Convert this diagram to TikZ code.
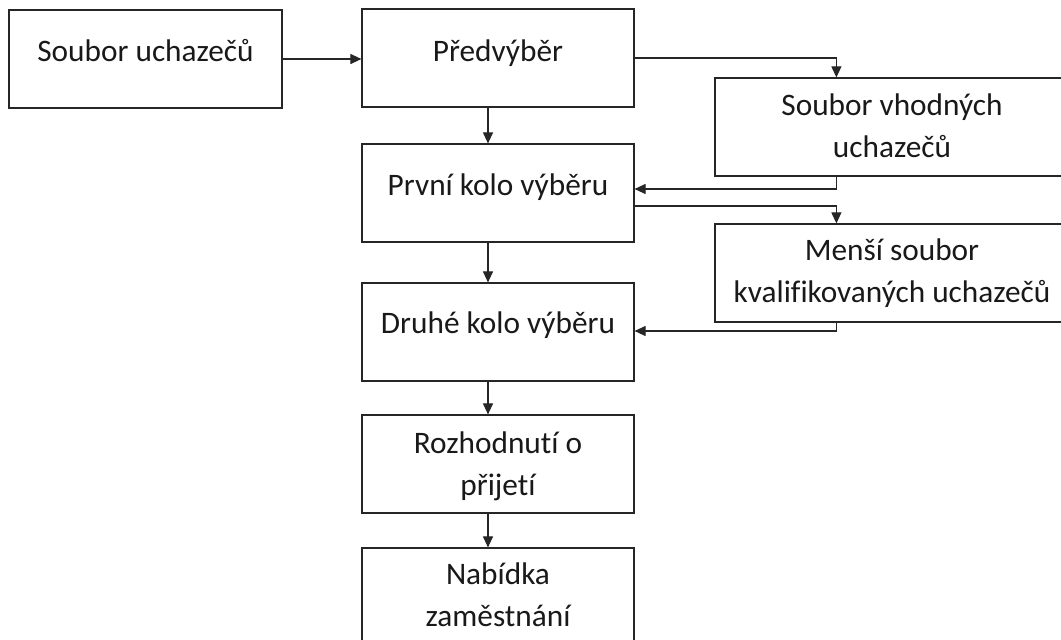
\documentclass[tikz,border=0pt]{standalone}
\usepackage{fontspec}
\setmainfont{Carlito}[RawFeature={-liga;-dlig;-clig;-hlig}]
\usetikzlibrary{arrows.meta,calc}
\begin{document}
\begin{tikzpicture}[x=1pt,y=-1pt,
  box/.style={draw=black!85, line width=1.2pt, minimum width=272pt, minimum height=98pt, inner sep=0pt},
  wbox/.style={box, minimum width=354pt},
  lbl/.style={font=\fontsize{31.3}{41.5}\selectfont, align=center, inner sep=0pt, text=black!90, anchor=base},
  conn/.style={draw=black!85, line width=1.1pt, -{Triangle[length=11pt,width=10pt]}}]
\useasboundingbox (0,0) rectangle (1061,640);
\fill[white] (0,0) rectangle (1061,640);
\clip (0,0) rectangle (1061,640);
% boxes
\node[box, minimum width=273pt] (b1) at (145.5,59) {};
\node[box] (b2) at (498,58) {};
\node[wbox] (b3) at (892,127) {};
\node[box] (b4) at (498,193) {};
\node[wbox] (b5) at (892,273) {};
\node[box] (b6) at (498,332) {};
\node[box] (b7) at (498,464) {};
\node[box] (b8) at (498,597) {};
% labels (base anchor = baseline of last line)
\node[lbl] (t1) at (145.5,61) {Soubor uchazečů};
\node[lbl] (t2) at (498,61) {Předvýběr};
\node[lbl] (t3) at (892,157) {Soubor vhodných\\uchazečů};
\node[lbl] (t4) at (498,195) {První kolo výběru};
\node[lbl] (t5) at (892,302) {Menší soubor\\kvalifikovaných uchazečů};
\node[lbl] (t6) at (498,333) {Druhé kolo výběru};
\node[lbl] (t7) at (498,495) {Rozhodnutí o\\přijetí};
\node[lbl] (t8) at (498,626) {Nabídka\\zaměstnání};
% junction coordinates
\coordinate (j3) at ($(b3.north west)+(122,0)$);
\coordinate (j5) at ($(b5.north west)+(122,0)$);
\coordinate (k3) at ($(b3.south west)+(122,0)$);
\coordinate (k5) at ($(b5.south west)+(122,0)$);
% connectors
\draw[conn] (b1.east) -- (b2.west |- b1.east);
\draw[conn] (b2.east) -| (j3);
\draw[conn] ($(b2.south)+(-10,0)$) -- ($(b4.north)+(-10,0)$);
\draw[conn] (k3) |- ($(b4.east)+(0,-4)$);
\draw[conn] ($(b4.east)+(0,13)$) -| (j5);
\draw[conn] ($(b4.south)+(-10,0)$) -- ($(b6.north)+(-10,0)$);
\draw[conn] (k5) |- ($(b6.east)+(0,-1)$);
\draw[conn] ($(b6.south)+(-10,0)$) -- ($(b7.north)+(-10,0)$);
\draw[conn] ($(b7.south)+(-10,0)$) -- ($(b8.north)+(-10,0)$);
\end{tikzpicture}
\end{document}
